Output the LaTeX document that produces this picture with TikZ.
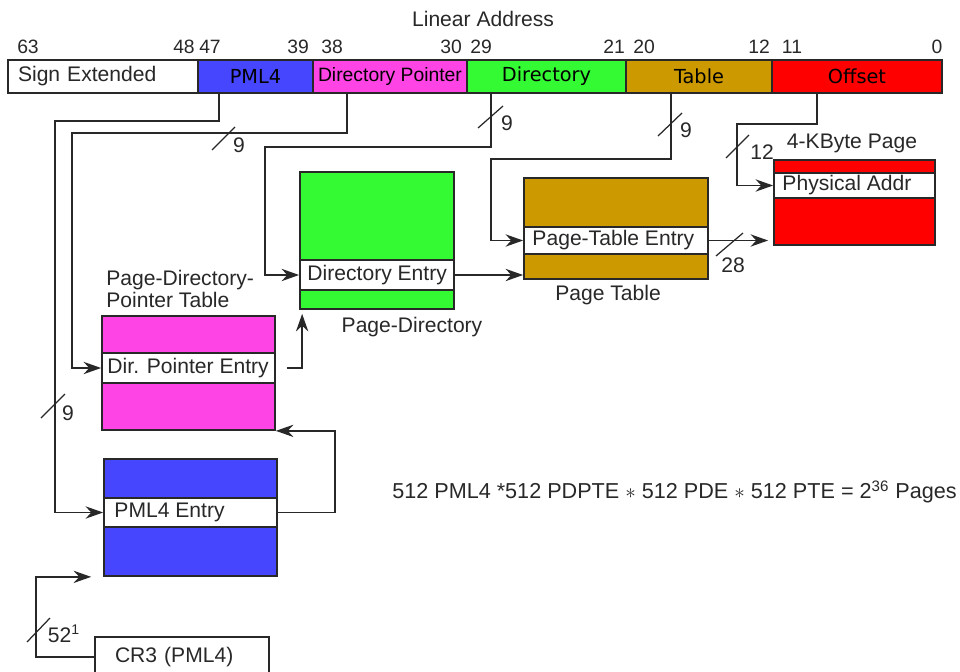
\documentclass[tikz,border=0pt]{standalone}
\usepackage{fontspec}
\setmainfont{Liberation Sans}
\newfontfamily\fieldfont{DejaVu Sans}
\usetikzlibrary{arrows.meta, positioning}
\definecolor{pmlblue}{RGB}{70,70,255}
\definecolor{ptrpink}{RGB}{255,68,230}
\definecolor{dirgreen}{RGB}{51,250,51}
\definecolor{tblgold}{RGB}{204,153,0}
\definecolor{offred}{RGB}{255,0,0}
\definecolor{inkgray}{RGB}{40,40,40}

\begin{document}
\begin{tikzpicture}[
    x=0.02cm, y=-0.02cm,
    every node/.style={align=center},
    fieldbox/.style={rectangle, draw=inkgray, line width=1pt, minimum height=0.66cm, inner sep=0pt, font=\fieldfont\fontsize{11}{13}\selectfont},
    tblbox/.style={rectangle, draw=inkgray, line width=1pt, inner sep=0pt},
    entrybox/.style={rectangle, draw=inkgray, line width=1pt, fill=white, inner sep=0pt},
    lbl/.style={inner sep=0pt, text=inkgray, font=\fontsize{12}{14}\selectfont},
    bitnum/.style={inner sep=0pt, text=inkgray, font=\fontsize{11}{13}\selectfont},
    link/.style={draw=inkgray, line width=0.9pt, -{Stealth[length=10pt, width=7pt]}},
    buscut/.style={draw=inkgray, line width=0.7pt}
]
\useasboundingbox (0,0) rectangle (960,672);
\clip (0,0) rectangle (960,672);

% Linear address and bit numbers
\node[lbl] (title) at (483,19) {Linear Address};
\node[bitnum] (b63) at (28,47) {63};
\node[bitnum] (b48) at (184,47) {48};
\node[bitnum] (b47) at (210,47) {47};
\node[bitnum] (b39) at (298,47) {39};
\node[bitnum] (b38) at (332,47) {38};
\node[bitnum] (b30) at (451,47) {30};
\node[bitnum] (b29) at (481,47) {29};
\node[bitnum] (b21) at (614,47) {21};
\node[bitnum] (b20) at (644,47) {20};
\node[bitnum] (b12) at (759,47) {12};
\node[bitnum] (b11) at (792,47) {11};
\node[bitnum] (b0) at (937,47) {0};

% Address fields
\node[fieldbox, fill=white, minimum width=3.8cm, text width=3.4cm, inner xsep=0.2cm, align=left, text=inkgray, font=\fontsize{12}{14}\selectfont] (fsign) at (103,76.5) {Sign Extended};
\node[fieldbox, fill=pmlblue, minimum width=2.3cm] (fpml4) at (255.5,76.5) {PML4};
\node[fieldbox, fill=ptrpink, minimum width=3.08cm, font=\fontsize{11}{13}\selectfont] (fpdp) at (390,76.5) {Directory Pointer};
\node[fieldbox, fill=dirgreen, minimum width=3.18cm] (fdir) at (546.5,76.5) {Directory};
\node[fieldbox, fill=tblgold, minimum width=2.92cm] (ftbl) at (699,76.5) {Table};
\node[fieldbox, fill=offred, minimum width=3.4cm] (foff) at (857,76.5) {Offset};

% PML4 table
\node[tblbox, fill=pmlblue, minimum width=3.46cm, minimum height=2.34cm] (pml4tbl) at (190.5,517.5) {};
\node[entrybox, minimum width=3.46cm, minimum height=0.58cm] (pml4ent) at (190.5,512.5) {};
\node[lbl, right=0.22cm of pml4ent.west] (pml4txt) {PML4 Entry};

% Page-directory-pointer table
\node[tblbox, fill=ptrpink, minimum width=3.46cm, minimum height=2.28cm] (pdpttbl) at (188.5,373) {};
\node[entrybox, minimum width=3.46cm, minimum height=0.6cm] (pdptent) at (188.5,368) {};
\node[lbl, right=0.12cm of pdptent.west] (pdpttxt) {Dir. Pointer Entry};
\node[lbl, anchor=west, align=left, font=\fontsize{12}{12}\selectfont] (pdptname) at (106,289) {Page-Directory-\\Pointer Table};

% Page directory
\node[tblbox, fill=dirgreen, minimum width=3.08cm, minimum height=2.74cm] (pdtbl) at (377,240.5) {};
\node[entrybox, minimum width=3.08cm, minimum height=0.6cm] (pdent) at (377,275) {};
\node[lbl, right=0.16cm of pdent.west] (pdtxt) {Directory Entry};
\node[lbl] (pdname) at (412,327) {Page-Directory};

% Page table
\node[tblbox, fill=tblgold, minimum width=3.68cm, minimum height=2.02cm] (pttbl) at (616,228.5) {};
\node[entrybox, minimum width=3.68cm, minimum height=0.54cm] (ptent) at (616,240.5) {};
\node[lbl, right=0.18cm of ptent.west] (pttxt) {Page-Table Entry};
\node[lbl] (ptname) at (608,295) {Page Table};

% 4-KByte page
\node[tblbox, fill=offred, minimum width=3.22cm, minimum height=1.7cm] (pagebox) at (854.5,202.5) {};
\node[entrybox, minimum width=3.22cm, minimum height=0.5cm] (physaddr) at (854.5,185.5) {};
\node[lbl, right=0.18cm of physaddr.west] (phystxt) {Physical Addr};
\node[lbl] (pagename) at (852,143) {4-KByte Page};

% CR3
\node[entrybox, minimum width=3.48cm, minimum height=0.8cm, text width=2.68cm, inner xsep=0.4cm, align=left, text=inkgray, font=\fontsize{12}{14}\selectfont] (cr3) at (182,657) {CR3 (PML4)};

\node[lbl, font=\fontsize{12.3}{14}\selectfont] (pagecount) at (674.5,492) {512 PML4 *512 PDPTE $\ast$ 512 PDE $\ast$ 512 PTE = 2\textsuperscript{36} Pages};

% Index lines from the address fields
\draw[link] ([xshift=0.44cm]fpml4.south west) |- (55,121) |- (pml4ent.west);
\draw[link] ([xshift=0.7cm]fpdp.south west) |- (72,133) |- (pdptent.west);
\draw[link] ([xshift=0.5cm]fdir.south west) |- (265,147) |- (pdent.west);
\draw[link] ([xshift=0.92cm]ftbl.south west) |- (491,159) |- (ptent.west);
\draw[link] ([xshift=0.92cm]foff.south west) |- (737,124) |- (physaddr.west);

% Table to table
\draw[link] (cr3.west) -| (36,600) |- ([xshift=-0.24cm]pml4tbl.south west);
\draw[link] (pml4ent.east) -- ++(57,0) |- (pdpttbl.south east);
\draw[link] ([xshift=0.22cm]pdptent.east) -| ([xshift=0.06cm, yshift=-0.08cm]pdtbl.south west);
\draw[link] (pdent.east) -- (pdent.east -| pttbl.west);
\draw[link] (ptent.east) -- ([xshift=-0.1cm]ptent.east -| pagebox.west);

% Bus widths
\draw[buscut] (41,418) -- (65,394);
\node[lbl] (wpml4) at (68,413) {9};
\draw[buscut] (212,150) -- (235,127);
\node[lbl] (wpdp) at (239,145) {9};
\draw[buscut] (478,128) -- (503,106);
\node[lbl] (wdir) at (507,123) {9};
\draw[buscut] (658,136) -- (682,113);
\node[lbl] (wtbl) at (686,130) {9};
\draw[buscut] (726,158) -- (749,135);
\node[lbl] (woff) at (762,152) {12};
\draw[buscut] (716,256) -- (743,233);
\node[lbl] (wphys) at (733,265) {28};
\draw[buscut] (27,642) -- (50,618);
\node[lbl] (wcr3) at (64,634) {52\textsuperscript{1}};

\end{tikzpicture}
\end{document}
